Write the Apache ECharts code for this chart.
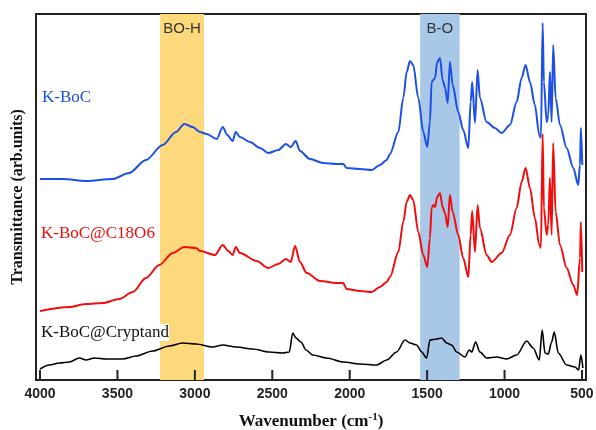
<!DOCTYPE html>
<html>
<head>
<meta charset="utf-8">
<script src="https://cdn.jsdelivr.net/npm/echarts@6/dist/echarts.min.js"></script>
<style>
html,body{margin:0;padding:0;background:#fff;}
#main{width:596px;height:430px;}
</style>
</head>
<body>
<div id="main"></div>
<script>
// x ticks
let xTicks=[4000,3500,3000,2500,2000,1500,1000,500];
let tickLen=10;

// shaded bands (wavenumber ranges)
let bandNames=["BO-H","B-O"];
let bandRanges=[[3225,2941],[1545,1290]];

// K-BoC
let kbocWn=[4000,3853,3703,3531,3425,3316,3208,3122,3068,3014,2967,2924,2859,2820,2791,2756,2736,2709,2644,2579,2526,2461,2412,2381,2349,2321,2257,2171,2084,2042,2020,1934,1858,1805,1761,1740,1686,1654,1632,1611,1590,1557,1525,1499,1482,1471,1460,1449,1435,1417,1400,1385,1367,1353,1335,1299,1267,1234,1219,1209,1191,1174,1159,1116,1062,1019,965,922,890,864,836,804,776,765,754,746,728,718,707,696,686,670,642,599,556,524,513,507,498];
let kbocT=[201,201,199,201,207,220,235,248,256,253,248,246,241,253,245,239,248,243,238,232,227,230,236,233,239,229,221,217,216,216,212,211,210,215,220,226,248,282,308,319,315,282,248,233,258,298,300,302,318,322,300,293,277,318,295,268,250,232,278,298,257,310,282,258,252,247,255,278,302,315,298,275,245,242,357,298,258,265,308,258,335,282,255,232,212,195,215,252,215];

// K-BoC@C18O6
let crownWn=[4000,3811,3703,3595,3488,3401,3316,3230,3143,3068,2993,2967,2870,2820,2784,2756,2736,2709,2601,2526,2461,2412,2381,2353,2321,2278,2192,2084,2042,2020,1934,1858,1805,1761,1740,1686,1654,1632,1611,1590,1557,1525,1499,1482,1471,1460,1449,1435,1417,1400,1385,1367,1353,1335,1299,1267,1234,1219,1209,1191,1174,1159,1116,1083,1019,965,922,890,864,836,804,776,765,754,746,728,718,707,696,686,670,642,599,556,531,513,507,498];
let crownT=[69,73,76,77,81,88,102,115,127,133,132,129,125,135,129,125,133,127,119,112,116,121,118,134,118,107,99,97,97,91,89,88,93,98,103,128,158,178,185,180,148,125,113,142,172,175,173,183,187,173,167,153,185,168,145,122,103,145,169,128,175,152,125,118,127,145,172,198,212,192,162,135,132,246,172,145,155,202,145,237,168,135,112,95,85,122,158,108];

// K-BoC@Cryptand
let cryptWn=[4000,3940,3875,3811,3746,3703,3649,3574,3466,3380,3272,3165,3079,2993,2885,2820,2734,2627,2519,2433,2390,2368,2347,2315,2282,2239,2149,2042,1934,1826,1761,1697,1643,1611,1568,1535,1503,1482,1438,1406,1374,1342,1309,1256,1228,1212,1187,1159,1116,1051,986,922,857,815,776,757,739,718,696,679,653,599,545,522,507,494];
let cryptT=[11,15,17,18,22,20,22,21,21,24,29,34,37,36,33,35,33,31,28,27,28,47,42,38,30,25,22,18,16,15,20,28,40,37,35,28,22,40,41,42,37,35,28,23,30,28,38,28,22,23,21,25,39,32,20,50,27,26,38,48,27,15,13,10,25,12];

function zip(a,b){
    let out=[];
    for(let i=0;i<a.length;i++){ out.push([a[i],b[i]]); }
    return out;
}

var myChart=echarts.init(document.getElementById("main"));
let bandColors=["#fdd97c","#a9c8e8"];
let areas=bandRanges.map((r,i)=>[
    {xAxis:r[0],name:bandNames[i],itemStyle:{color:bandColors[i]}},
    {xAxis:r[1]}
]);

let option={
    backgroundColor:"#fff",
    animation:false,
    grid:{
        left:36,top:14,width:550,height:366,
        outerBoundsMode:"none",containLabel:false,
        show:true,borderColor:"#222",borderWidth:2,backgroundColor:"transparent"
    },
    xAxis:{
        type:"value",
        inverse:true,
        min:474,
        max:4026,
        name:"{a|Wavenumber (cm}{s|-1}{a|)}",
        nameLocation:"middle",
        nameGap:32,
        nameTextStyle:{
            rich:{
                a:{fontFamily:"Liberation Serif",fontWeight:"bold",fontSize:17,color:"#111"},
                s:{fontFamily:"Liberation Serif",fontWeight:"bold",fontSize:11,color:"#111",verticalAlign:"top",padding:[0,0,9,0]}
            }
        },
        axisLine:{show:true,lineStyle:{color:"#222",width:2}},
        axisTick:{show:false},
        axisLabel:{
            customValues:xTicks,
            formatter:function(v){return String(v);},
            margin:7,
            fontFamily:"Liberation Sans",fontWeight:"bold",fontSize:14,color:"#222"
        },
        splitLine:{show:false}
    },
    yAxis:{
        type:"value",
        min:0,
        max:366,
        name:"Transmittance (arb.units)",
        nameLocation:"middle",
        nameGap:10,
        nameTextStyle:{fontFamily:"Liberation Serif",fontWeight:"bold",fontSize:16,color:"#111"},
        axisLine:{show:false},
        axisTick:{show:false},
        axisLabel:{show:false},
        splitLine:{show:false}
    },
    series:[
        {
            type:"line",
            data:[[4000,-10]],
            showSymbol:false,
            lineStyle:{opacity:0},
            z:1,
            silent:true,
            markArea:{
                silent:true,
                label:{
                    show:true,position:"insideTop",distance:7,
                    fontFamily:"Liberation Sans",fontSize:15,color:"#333"
                },
                data:areas
            }
        },
        {
            name:"K-BoC",type:"line",data:zip(kbocWn,kbocT),z:3,
            showSymbol:false,smooth:0.3,smoothMonotone:"x",
            lineStyle:{color:"#1b4fe6",width:2},itemStyle:{color:"#1b4fe6"}
        },
        {
            name:"K-BoC@C18O6",type:"line",data:zip(crownWn,crownT),z:3,
            showSymbol:false,smooth:0.3,smoothMonotone:"x",
            lineStyle:{color:"#f20d0d",width:2},itemStyle:{color:"#f20d0d"}
        },
        {
            name:"K-BoC@Cryptand",type:"line",data:zip(cryptWn,cryptT),z:3,
            showSymbol:false,smooth:0.3,smoothMonotone:"x",
            lineStyle:{color:"#000",width:1.6},itemStyle:{color:"#000"}
        }
    ],
    graphic:[
        {id:"lab1",type:"text",left:42,top:89,z:10,style:{text:"K-BoC",fill:"#1b4fe6",font:"17px 'Liberation Serif'"}},
        {id:"lab2",type:"text",left:41,top:225,z:10,style:{text:"K-BoC@C18O6",fill:"#f20d0d",font:"17px 'Liberation Serif'",backgroundColor:"#fff"}},
        {id:"lab3",type:"text",left:41,top:324,z:10,style:{text:"K-BoC@Cryptand",fill:"#111",font:"17px 'Liberation Serif'",backgroundColor:"#fff"}}
    ]
};
myChart.setOption(option);

// inward ticks on the bottom axis, placed through the axis scale
let tickEls=xTicks.map((t,i)=>{
    let p0=myChart.convertToPixel({gridIndex:0},[t,0]);
    let p1=myChart.convertToPixel({gridIndex:0},[t,tickLen]);
    return {
        id:"tick"+i,type:"line",z:20,silent:true,
        shape:{x1:p0[0],y1:p0[1],x2:p1[0],y2:p1[1]},
        style:{stroke:"#222",lineWidth:2}
    };
});
myChart.setOption({graphic:tickEls});
</script>
</body>
</html>
